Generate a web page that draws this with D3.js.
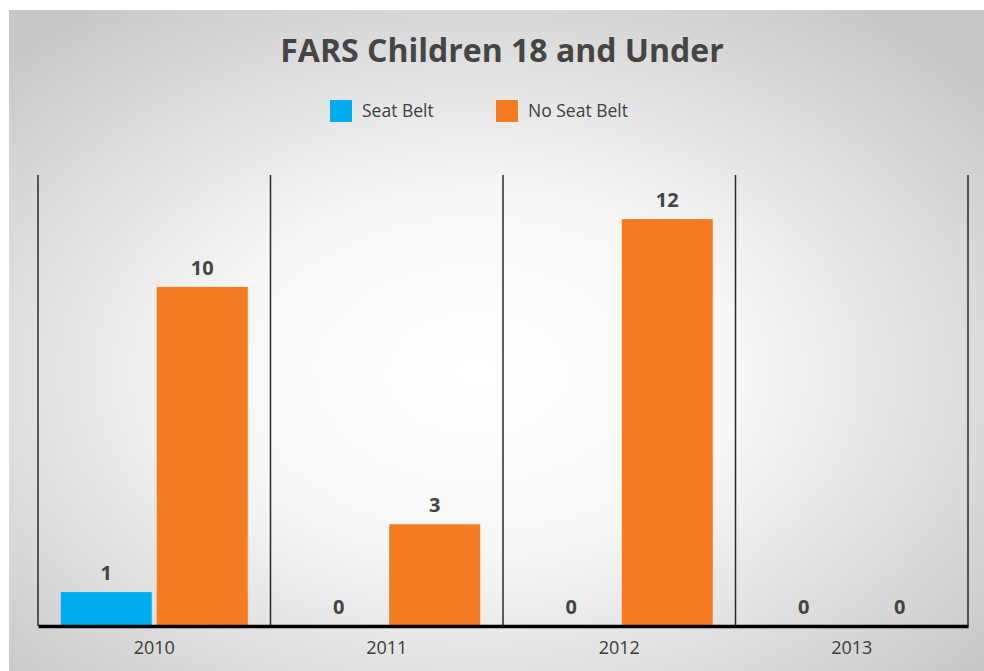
<!DOCTYPE html>
<meta charset="utf-8">
<head>
  <title>FARS Children 18 and Under</title>
</head>
<style>
  body { margin: 0; background: #fff; }
  svg { display: block; }
  .title { font: bold 32px "Open Sans", sans-serif; fill: #454545; }
  .legend text { font: 17.5px "Open Sans", sans-serif; fill: #404040; }
  .value { font: bold 20px "Open Sans", sans-serif; fill: #444; }
  .xaxis text { font: 18px "Open Sans", sans-serif; fill: #3a3a3a; }
</style>
<body>
<script src="https://d3js.org/d3.v7.min.js"></script>
<script>
var years = ["2010", "2011", "2012", "2013"];
var series = ["Seat Belt", "No Seat Belt"];
var seatBelt = [1, 0, 0, 0];
var noSeatBelt = [10, 3, 12, 0];
var colors = ["#00aeef", "#f47b20"];

var W = 984, H = 671;
var margin = {top: 175, right: 16, bottom: 45, left: 38},
    width = 968 - margin.left,
    height = 626 - margin.top;

var svg = d3.select("body").append("svg")
    .attr("width", W)
    .attr("height", H);

// soft radial background panel
var grad = svg.append("defs").append("radialGradient")
    .attr("id", "bg")
    .attr("cx", "48%").attr("cy", "55%").attr("r", "68%");
grad.append("stop").attr("offset", "0%").attr("stop-color", "#ffffff");
grad.append("stop").attr("offset", "40%").attr("stop-color", "#f7f7f7");
grad.append("stop").attr("offset", "100%").attr("stop-color", "#c8c8c8");

svg.append("rect")
    .attr("x", 9).attr("y", 10)
    .attr("width", W - 9).attr("height", H - 10)
    .attr("fill", "url(#bg)");

svg.append("text")
    .attr("class", "title")
    .attr("x", 502).attr("y", 62)
    .attr("text-anchor", "middle")
    .text("FARS Children 18 and Under");

// legend
var legendX = [330, 496];
var legend = svg.append("g").attr("class", "legend");
series.forEach(function(s, i) {
  legend.append("rect")
      .attr("x", legendX[i]).attr("y", 100)
      .attr("width", 22).attr("height", 22)
      .attr("fill", colors[i]);
  legend.append("text")
      .attr("x", legendX[i] + 32).attr("y", 117)
      .text(s);
});

var g = svg.append("g")
    .attr("transform", "translate(" + margin.left + "," + margin.top + ")");

var x0 = d3.scaleBand().domain(years).range([0, width]).padding(0);
var x1 = d3.scaleBand().domain(series).range([0, x0.bandwidth()])
    .paddingInner(0.052).paddingOuter(0.237);
var y = d3.scaleLinear().domain([0, 13.3]).range([height, 0]);

var data = years.map(function(yr, i) {
  return {year: yr, values: [seatBelt[i], noSeatBelt[i]]};
});

// category separators
g.selectAll(".sep")
    .data(d3.range(years.length + 1))
  .enter().append("line")
    .attr("x1", function(i) { return i * x0.step(); })
    .attr("x2", function(i) { return i * x0.step(); })
    .attr("y1", 0).attr("y2", height)
    .attr("stroke", "#2a2a2a")
    .attr("stroke-width", 1.5);

var groups = g.selectAll(".year")
    .data(data)
  .enter().append("g")
    .attr("transform", function(d) { return "translate(" + x0(d.year) + ",0)"; });

groups.selectAll("rect")
    .data(function(d) { return d.values.map(function(v, i) { return {key: series[i], value: v, i: i}; }); })
  .enter().append("rect")
    .attr("x", function(d) { return x1(d.key); })
    .attr("y", function(d) { return y(d.value); })
    .attr("width", x1.bandwidth())
    .attr("height", function(d) { return height - y(d.value); })
    .attr("fill", function(d) { return colors[d.i]; });

groups.selectAll(".value")
    .data(function(d) { return d.values.map(function(v, i) { return {key: series[i], value: v}; }); })
  .enter().append("text")
    .attr("class", "value")
    .attr("x", function(d) { return x1(d.key) + x1.bandwidth() / 2; })
    .attr("y", function(d) { return y(d.value) - 12; })
    .attr("text-anchor", "middle")
    .text(function(d) { return d.value; });

// x axis
var xAxis = g.append("g")
    .attr("class", "xaxis")
    .attr("transform", "translate(0," + height + ")")
    .call(d3.axisBottom(x0).tickSize(0).tickPadding(15));
xAxis.select(".domain")
    .attr("stroke", "#000")
    .attr("stroke-width", 3.5);
</script>
</body>
